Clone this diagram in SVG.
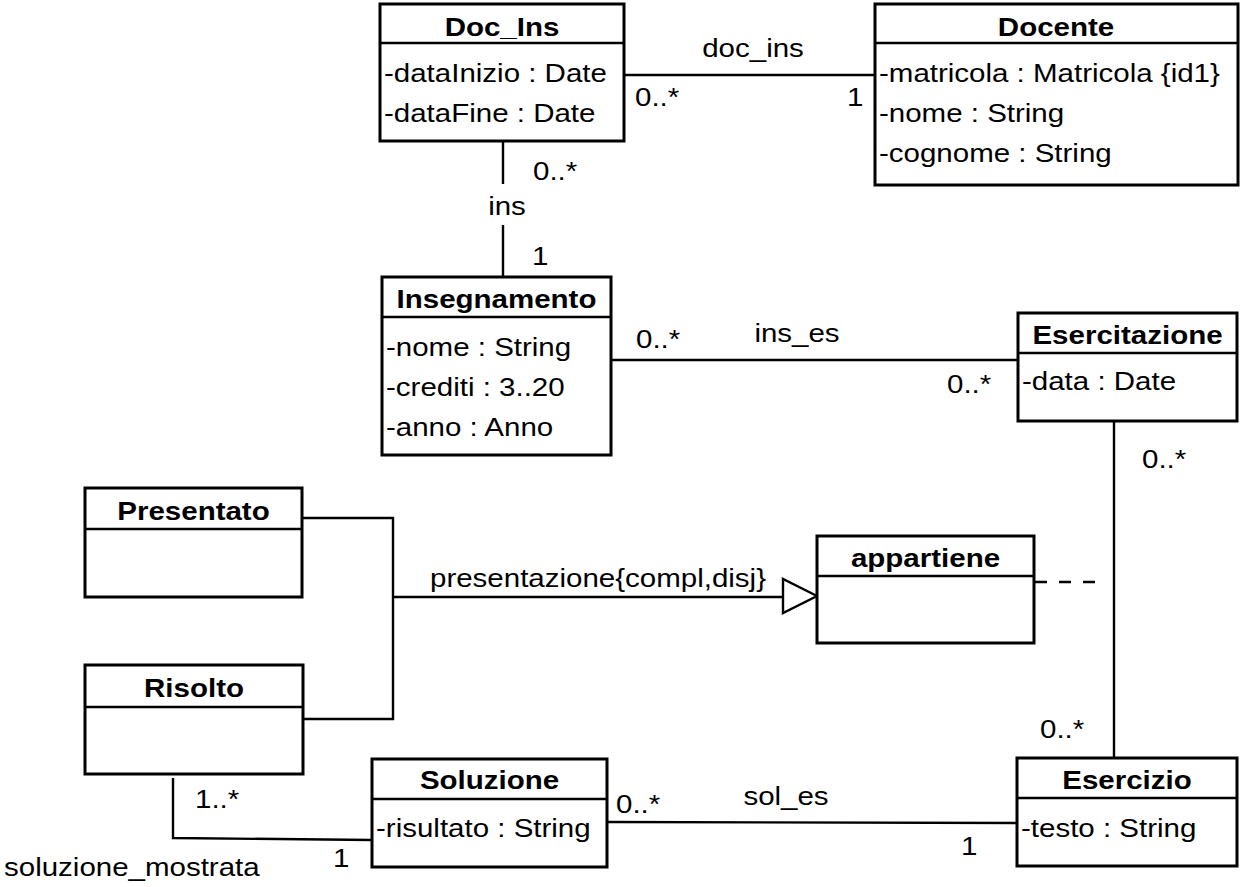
<svg xmlns="http://www.w3.org/2000/svg" width="1244" height="887" viewBox="0 0 1244 887">
<style>
text{font-family:"Liberation Sans",Arial,sans-serif;font-size:25px;fill:#000}
.t{font-weight:bold;text-anchor:middle}
.m{text-anchor:middle}
.box{fill:#fff;stroke:#000;stroke-width:3}
.hd{stroke:#000;stroke-width:2.6}
.c{fill:none;stroke:#000;stroke-width:2.4}
</style>
<rect width="1244" height="887" fill="#fff"/>
<g id="connectors">
<line class="c" x1="624" y1="75" x2="875" y2="75"/>
<line class="c" x1="503" y1="142" x2="503" y2="184"/>
<line class="c" x1="503" y1="225" x2="503" y2="277"/>
<line class="c" x1="611" y1="360" x2="1018" y2="360"/>
<line class="c" x1="1114" y1="421" x2="1114" y2="758"/>
<line class="c" x1="1035" y1="582" x2="1100" y2="582" stroke-dasharray="12 12"/>
<polyline class="c" points="302,518 393,518 393,719 303,719"/>
<line class="c" x1="393" y1="597" x2="783" y2="597"/>
<polygon points="817,596 783,579 783,613" fill="#fff" stroke="#000" stroke-width="2.4"/>
<polyline class="c" points="173,778 173,838 372,840"/>
<line class="c" x1="607" y1="822" x2="1017" y2="823"/>
<text transform="translate(753 57) scale(1.18 1)" class="m">doc_ins</text>
<text transform="translate(635 106) scale(1.18 1)">0..*</text>
<text transform="translate(847 106) scale(1.18 1)">1</text>
<text transform="translate(507 215) scale(1.18 1)" class="m">ins</text>
<text transform="translate(533 180) scale(1.18 1)">0..*</text>
<text transform="translate(532 265) scale(1.18 1)">1</text>
<text transform="translate(636 348) scale(1.18 1)">0..*</text>
<text transform="translate(797 342) scale(1.18 1)" class="m">ins_es</text>
<text transform="translate(947 393) scale(1.18 1)">0..*</text>
<text transform="translate(1142 468) scale(1.18 1)">0..*</text>
<text transform="translate(1040 738) scale(1.18 1)">0..*</text>
<text transform="translate(430 587) scale(1.18 1)">presentazione{compl,disj}</text>
<text transform="translate(195 808) scale(1.18 1)">1..*</text>
<text transform="translate(333 867) scale(1.18 1)">1</text>
<text transform="translate(4 876) scale(1.18 1)">soluzione_mostrata</text>
<text transform="translate(616 813) scale(1.18 1)">0..*</text>
<text transform="translate(786 805) scale(1.18 1)" class="m">sol_es</text>
<text transform="translate(961 855) scale(1.18 1)">1</text>
</g>
<g id="Doc_Ins">
<rect class="box" x="380" y="4" width="244" height="137"/>
<line class="hd" x1="380" y1="43" x2="624" y2="43"/>
<text class="t" transform="translate(502 36) scale(1.18 1)">Doc_Ins</text>
<text transform="translate(384 82) scale(1.18 1)">-dataInizio : Date</text>
<text transform="translate(384 122) scale(1.18 1)">-dataFine : Date</text>
</g>
<g id="Docente">
<rect class="box" x="875" y="4" width="363" height="181"/>
<line class="hd" x1="875" y1="43" x2="1238" y2="43"/>
<text class="t" transform="translate(1056 36) scale(1.18 1)">Docente</text>
<text transform="translate(879 82) scale(1.18 1)">-matricola : Matricola {id1}</text>
<text transform="translate(879 122) scale(1.18 1)">-nome : String</text>
<text transform="translate(879 162) scale(1.18 1)">-cognome : String</text>
</g>
<g id="Insegnamento">
<rect class="box" x="382" y="277" width="229" height="178"/>
<line class="hd" x1="382" y1="317" x2="611" y2="317"/>
<text class="t" transform="translate(496.5 308) scale(1.18 1)">Insegnamento</text>
<text transform="translate(386 356) scale(1.18 1)">-nome : String</text>
<text transform="translate(386 396) scale(1.18 1)">-crediti : 3..20</text>
<text transform="translate(386 436) scale(1.18 1)">-anno : Anno</text>
</g>
<g id="Esercitazione">
<rect class="box" x="1018" y="313" width="219" height="108"/>
<line class="hd" x1="1018" y1="353" x2="1237" y2="353"/>
<text class="t" transform="translate(1127.5 344) scale(1.18 1)">Esercitazione</text>
<text transform="translate(1022 390) scale(1.18 1)">-data : Date</text>
</g>
<g id="appartiene">
<rect class="box" x="817" y="536" width="217" height="107"/>
<line class="hd" x1="817" y1="576" x2="1034" y2="576"/>
<text class="t" transform="translate(925.5 567) scale(1.18 1)">appartiene</text>
</g>
<g id="Presentato">
<rect class="box" x="85" y="488" width="217" height="109"/>
<line class="hd" x1="85" y1="529" x2="302" y2="529"/>
<text class="t" transform="translate(193.5 520) scale(1.18 1)">Presentato</text>
</g>
<g id="Risolto">
<rect class="box" x="85" y="665" width="218" height="109"/>
<line class="hd" x1="85" y1="707" x2="303" y2="707"/>
<text class="t" transform="translate(194 697) scale(1.18 1)">Risolto</text>
</g>
<g id="Soluzione">
<rect class="box" x="372" y="759" width="235" height="108"/>
<line class="hd" x1="372" y1="799" x2="607" y2="799"/>
<text class="t" transform="translate(489.5 789) scale(1.18 1)">Soluzione</text>
<text transform="translate(376 837) scale(1.18 1)">-risultato : String</text>
</g>
<g id="Esercizio">
<rect class="box" x="1017" y="758" width="220" height="108"/>
<line class="hd" x1="1017" y1="798" x2="1237" y2="798"/>
<text class="t" transform="translate(1127 789) scale(1.18 1)">Esercizio</text>
<text transform="translate(1021 837) scale(1.18 1)">-testo : String</text>
</g>
</svg>
